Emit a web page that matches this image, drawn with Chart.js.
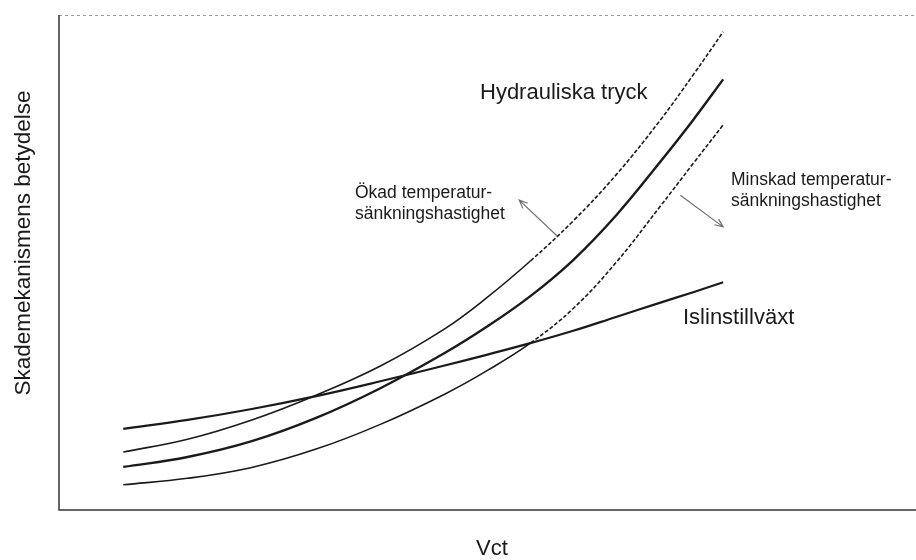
<!DOCTYPE html>
<html>
<head>
<meta charset="utf-8">
<script src="https://cdn.jsdelivr.net/npm/chart.js@4/dist/chart.umd.min.js"></script>
<style>
  html, body { margin: 0; padding: 0; background: #fff; }
  #wrap { width: 916px; height: 560px; position: relative; }
</style>
</head>
<body>
<div id="wrap"><canvas id="chart"></canvas></div>
<script>
// Vct along the x axis (relative units, no ticks in the original)
const vct = [7.5, 15, 22.5, 30, 37.5, 45, 50, 55, 60, 65, 70, 74, 77.5]

// relative importance of each damage mechanism
const hydraulic = [8.7, 10.7, 13.9, 18.6, 24.6, 31.7, 37.1, 43.2, 50.5, 59.5, 70.0, 78.8, 87.0]
const fasterCooling = [11.7, 14.3, 18.2, 23.2, 29.1, 36.6, 43.0, 50.3, 58.4, 67.7, 78.4, 87.9, 96.6]
const slowerCooling = [5.1, 6.4, 8.6, 12.3, 17.3, 23.4, 28.2, 33.7, 40.7, 50.0, 61.0, 70.0, 77.8]
const iceLens = [16.4, 18.2, 20.4, 23.0, 26.0, 29.2, 31.4, 33.7, 36.2, 39.0, 41.8, 44.0, 46.0]

// arrows showing where the curve moves, [x0, y0, x1, y1]
const arrows = [
  [58.1, 55.4, 53.7, 62.6],
  [72.5, 63.6, 77.5, 57.2]
]

const FONT = '"Liberation Sans", Arial, Helvetica, sans-serif'
const INK = '#1a1a1a'

function points(ys) {
  return vct.map((x, i) => ({ x: x, y: ys[i] }))
}

const dashTop = {
  borderDash: (ctx) => ctx.p0.parsed.x >= 52 ? [4, 2] : undefined
}

const annotationPlugin = {
  id: 'annotationPlugin',

  beforeDatasetsDraw: (chart) => {
    const { ctx, chartArea } = chart

    ctx.save()
    // top border, faint and broken like the scan
    ctx.strokeStyle = '#9a9a9a'
    ctx.lineWidth = 1
    ctx.setLineDash([3, 3])
    ctx.beginPath()
    ctx.moveTo(chartArea.left, chartArea.top + 0.5)
    ctx.lineTo(chartArea.right, chartArea.top + 0.5)
    ctx.stroke()

    // left and bottom axis lines
    ctx.setLineDash([])
    ctx.strokeStyle = '#333'
    ctx.lineWidth = 1.5
    ctx.beginPath()
    ctx.moveTo(chartArea.left, chartArea.top)
    ctx.lineTo(chartArea.left, chartArea.bottom)
    ctx.lineTo(chartArea.right, chartArea.bottom)
    ctx.stroke()
    ctx.restore()
  },

  afterDraw: (chart) => {
    const { ctx, scales } = chart
    const x = scales.x
    const y = scales.y

    ctx.save()
    ctx.fillStyle = INK
    ctx.textBaseline = 'middle'

    // axis titles
    ctx.font = '22px ' + FONT
    ctx.textAlign = 'center'
    ctx.fillText('Vct', 492, 549)

    ctx.save()
    ctx.translate(24, 243)
    ctx.rotate(-Math.PI / 2)
    ctx.font = '22.5px ' + FONT
    ctx.fillText('Skademekanismens betydelse', 0, 0)
    ctx.restore()

    // curve labels
    ctx.textAlign = 'left'
    ctx.font = '22px ' + FONT
    ctx.fillText('Hydrauliska tryck', 480, 93)
    ctx.fillText('Islinstillväxt', 683, 318)

    ctx.font = '17.5px ' + FONT
    ctx.fillText('Ökad temperatur-', 355, 193)
    ctx.fillText('sänkningshastighet', 355, 214)
    ctx.fillText('Minskad temperatur-', 731, 180)
    ctx.fillText('sänkningshastighet', 731, 201)

    // arrows
    ctx.strokeStyle = '#707070'
    ctx.lineWidth = 1.2
    arrows.forEach((a) => {
      const x0 = x.getPixelForValue(a[0])
      const y0 = y.getPixelForValue(a[1])
      const x1 = x.getPixelForValue(a[2])
      const y1 = y.getPixelForValue(a[3])
      const ang = Math.atan2(y1 - y0, x1 - x0)
      const head = 9
      ctx.beginPath()
      ctx.moveTo(x0, y0)
      ctx.lineTo(x1, y1)
      ctx.moveTo(x1 - head * Math.cos(ang - 0.4), y1 - head * Math.sin(ang - 0.4))
      ctx.lineTo(x1, y1)
      ctx.lineTo(x1 - head * Math.cos(ang + 0.4), y1 - head * Math.sin(ang + 0.4))
      ctx.stroke()
    })
    ctx.restore()
  }
}

const lineBase = {
  pointRadius: 0,
  fill: false,
  tension: 0.4,
  borderColor: INK
}

new Chart(document.getElementById('chart'), {
  type: 'line',
  data: {
    datasets: [
      { ...lineBase, label: 'Islinstillväxt', data: points(iceLens), borderWidth: 2.2 },
      { ...lineBase, label: 'Ökad temperatursänkningshastighet', data: points(fasterCooling), borderWidth: 1.6, segment: dashTop },
      { ...lineBase, label: 'Hydrauliska tryck', data: points(hydraulic), borderWidth: 2.4 },
      { ...lineBase, label: 'Minskad temperatursänkningshastighet', data: points(slowerCooling), borderWidth: 1.6, segment: dashTop }
    ]
  },
  options: {
    responsive: true,
    maintainAspectRatio: false,
    animation: false,
    layout: { padding: { left: 59, top: 15, right: 0, bottom: 50 } },
    plugins: {
      legend: { display: false },
      tooltip: { enabled: false }
    },
    scales: {
      x: { type: 'linear', min: 0, max: 100, display: false },
      y: { type: 'linear', min: 0, max: 100, display: false }
    }
  },
  plugins: [annotationPlugin]
})
</script>
</body>
</html>
